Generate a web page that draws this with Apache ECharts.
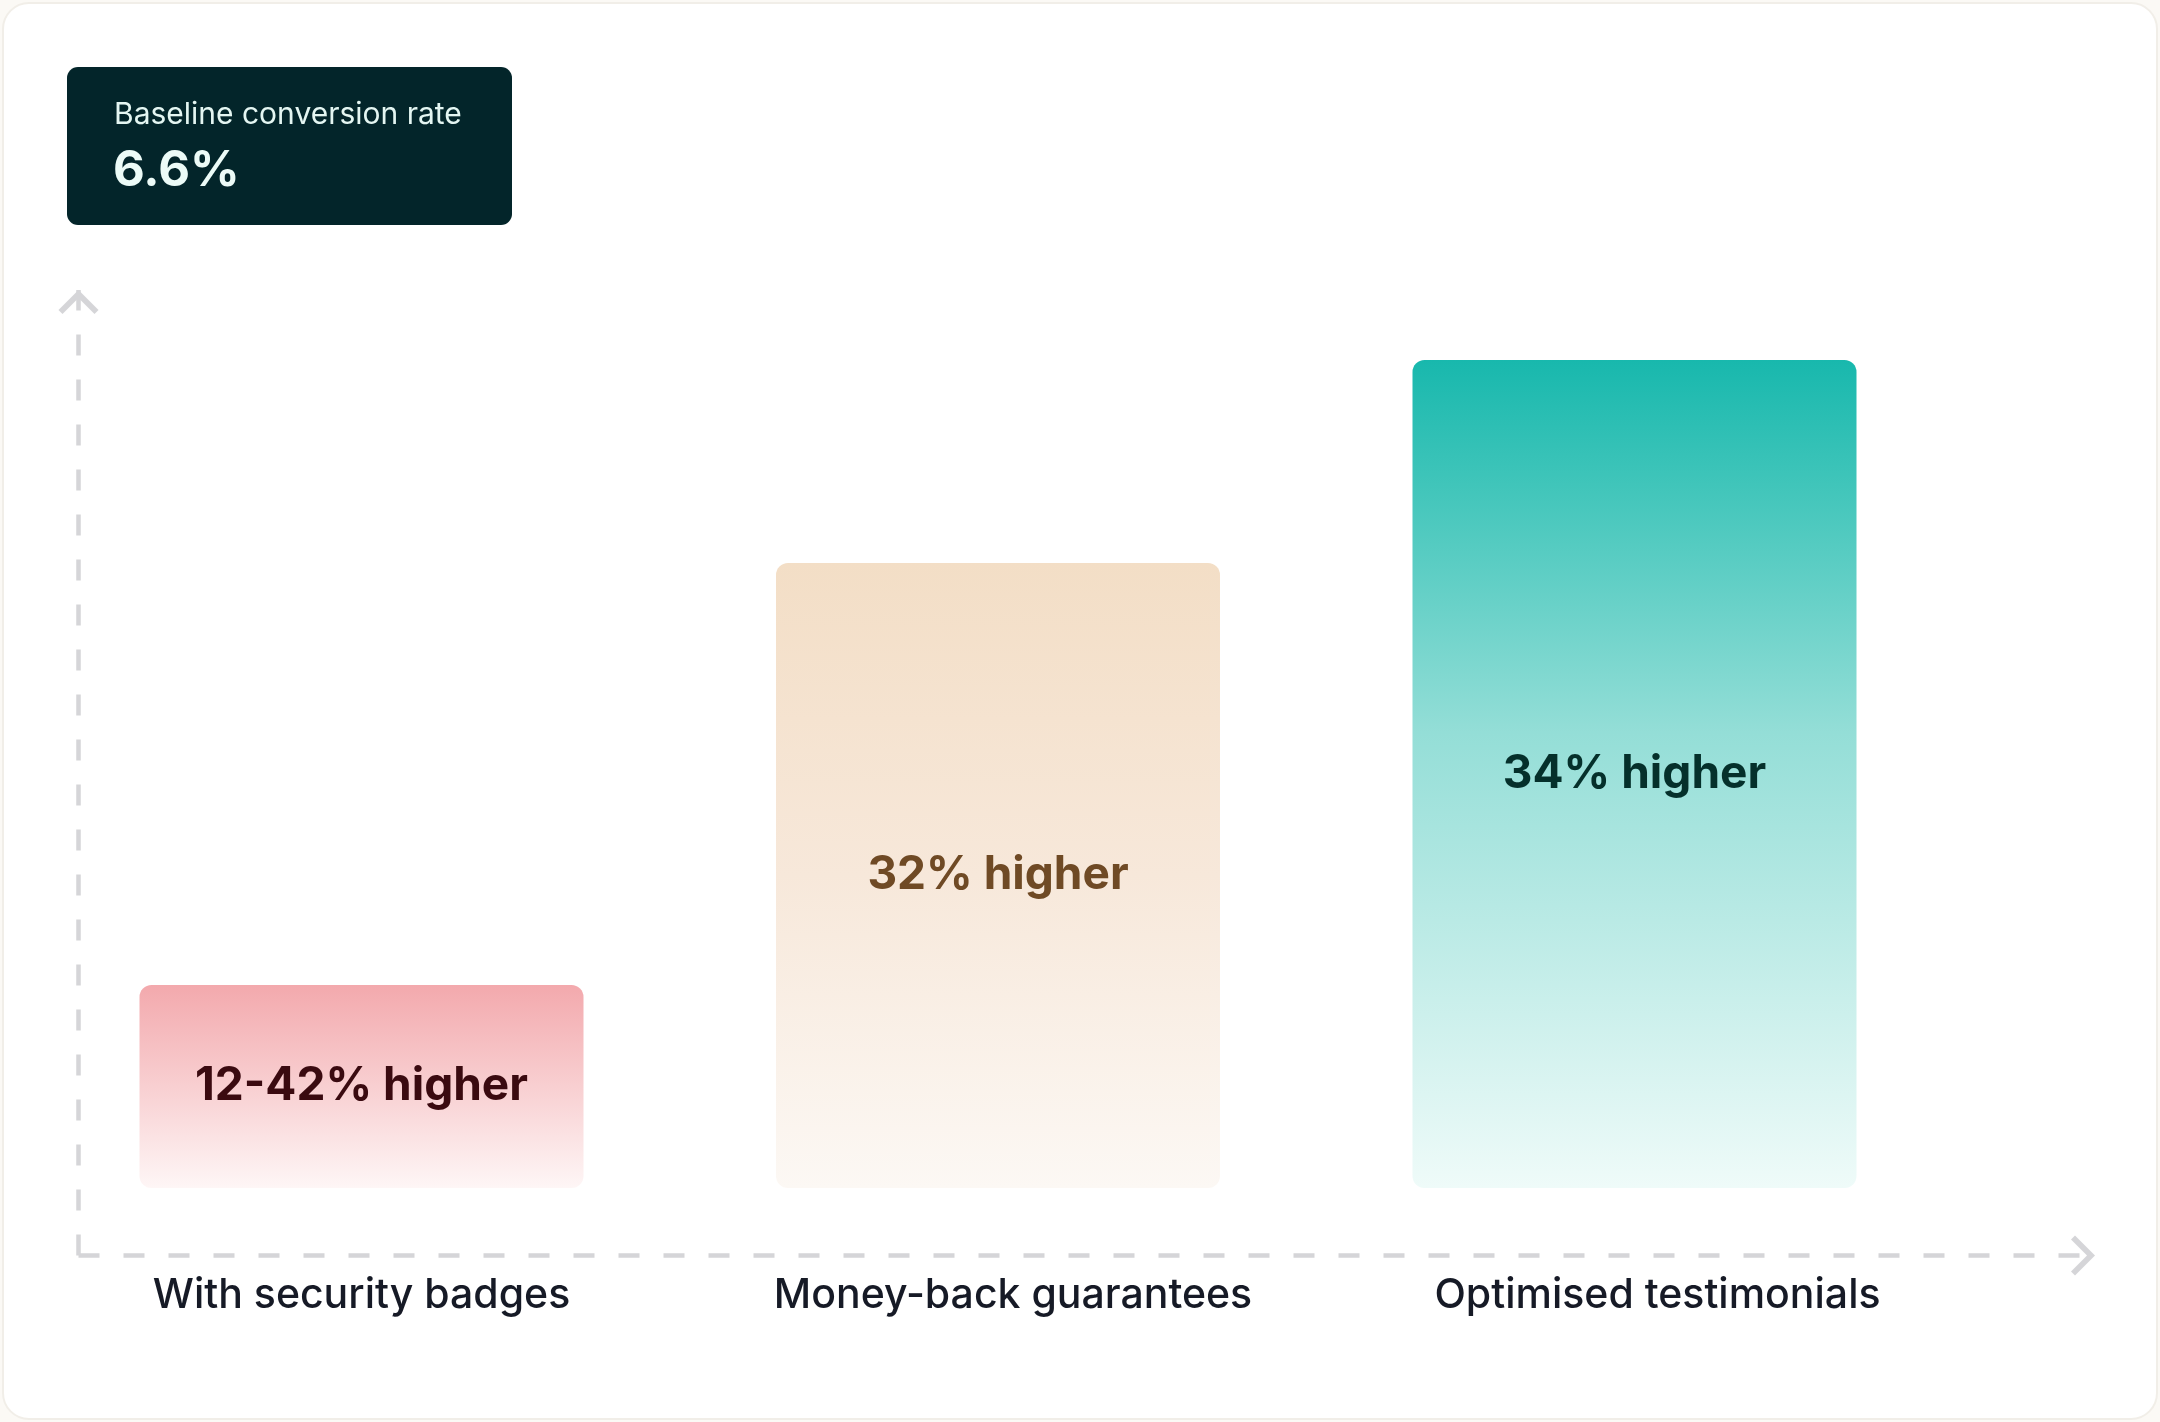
<!DOCTYPE html>
<html><head><meta charset="utf-8">
<script src="https://cdn.jsdelivr.net/npm/echarts@6/dist/echarts.min.js"></script>
<style>html,body{margin:0;padding:0;background:#fbf9f5;}#c{width:2160px;height:1422px;}</style>
</head><body><div id="c"></div>
<script>
// ---- data ----
const categories = ['With security badges', 'Money-back guarantees', 'Optimised testimonials'];
const barValues = [22.6, 69.6, 92.2];          // relative bar height (0-100 scale)
const barLabels = ['12-42% higher', '32% higher', '34% higher'];
const baselineTitle = 'Baseline conversion rate';
const baselineValue = '6.6%';

// ---- styles ----
const gradients = [
  [[0, '#f3a9ad'], [0.5, '#f8cfd1'], [1, '#fef6f6']],
  [[0, '#f3dec6'], [0.5, '#f7e8da'], [1, '#fcf8f4']],
  [[0, '#18b8ad'], [0.15, '#40c5ba'], [0.45, '#94ded7'], [1, '#effbf9']]
];
const labelColors = ['#3a0a10', '#6f4a25', '#05302b'];
const labelShift = [0, 30, 46];
const axisColor = '#d5d5d8';
const chevron = 'path://M0,20 L20,0 L40,20 L36,24 L20,8 L4,24 Z';

const chart = echarts.init(document.getElementById('c'), null, {renderer: 'canvas'});

const barData = barValues.map((v, i) => ({
  value: v,
  itemStyle: {
    color: {
      type: 'linear', x: 0, y: 0, x2: 0, y2: 1,
      colorStops: gradients[i].map(s => ({offset: s[0], color: s[1]}))
    }
  },
  label: {color: labelColors[i]}
}));

const catData = categories.map((c, i) => ({
  value: c,
  textStyle: {padding: [0, 0, 0, labelShift[i]]}
}));

const axisLineStyle = {color: axisColor, width: 4.5, type: [21, 24], cap: 'butt'};

chart.setOption({
  backgroundColor: 'transparent',
  animation: false,
  graphic: [
    {
      type: 'rect', z: -10,
      shape: {x: 3, y: 3, width: 2154, height: 1416, r: 26},
      style: {fill: '#ffffff', stroke: '#f1eee8', lineWidth: 2}
    },
    {
      type: 'rect', z: 10,
      shape: {x: 67, y: 67, width: 445, height: 158, r: 11},
      style: {fill: '#03252a'}
    },
    {
      type: 'text', z: 11, x: 114, y: 115,
      style: {text: baselineTitle, fill: '#e4f6f2', font: '400 30px Inter', textVerticalAlign: 'middle'}
    },
    {
      type: 'text', z: 11, x: 113, y: 171,
      style: {text: baselineValue, fill: '#ecfbf7', font: '700 49px Inter', textVerticalAlign: 'middle'}
    }
  ],
  grid: [
    {left: 43.25, right: 207.25, top: 290, bottom: 234},
    {left: 78.5, right: 65, top: 290, bottom: 166.5}
  ],
  xAxis: [
    {
      type: 'category', gridIndex: 0, data: catData,
      axisLine: {show: false}, axisTick: {show: false}, splitLine: {show: false},
      axisLabel: {
        interval: 0, margin: 83, fontFamily: 'Inter', fontSize: 41, fontWeight: 500,
        color: '#161a26', lineHeight: 50
      }
    },
    {
      type: 'value', gridIndex: 1, min: 0, max: 1,
      axisLine: {show: true, onZero: false, lineStyle: axisLineStyle,
        symbol: ['none', chevron], symbolSize: [40, 24], symbolOffset: [0, -12]},
      axisTick: {show: false}, axisLabel: {show: false}, splitLine: {show: false}
    }
  ],
  yAxis: [
    {
      type: 'value', gridIndex: 0, min: 0, max: 100,
      axisLine: {show: false}, axisTick: {show: false}, axisLabel: {show: false}, splitLine: {show: false}
    },
    {
      type: 'value', gridIndex: 1, min: 0, max: 1,
      axisLine: {show: true, onZero: false, lineStyle: axisLineStyle,
        symbol: ['none', chevron], symbolSize: [40, 24], symbolOffset: [0, -12]},
      axisTick: {show: false}, axisLabel: {show: false}, splitLine: {show: false}
    }
  ],
  series: [{
    type: 'bar', xAxisIndex: 0, yAxisIndex: 0,
    barWidth: 444,
    data: barData,
    itemStyle: {borderRadius: 12},
    label: {
      show: true, position: 'inside',
      formatter: p => barLabels[p.dataIndex],
      fontFamily: 'Inter', fontSize: 46, fontWeight: 700
    }
  }]
});
</script>
</body></html>
